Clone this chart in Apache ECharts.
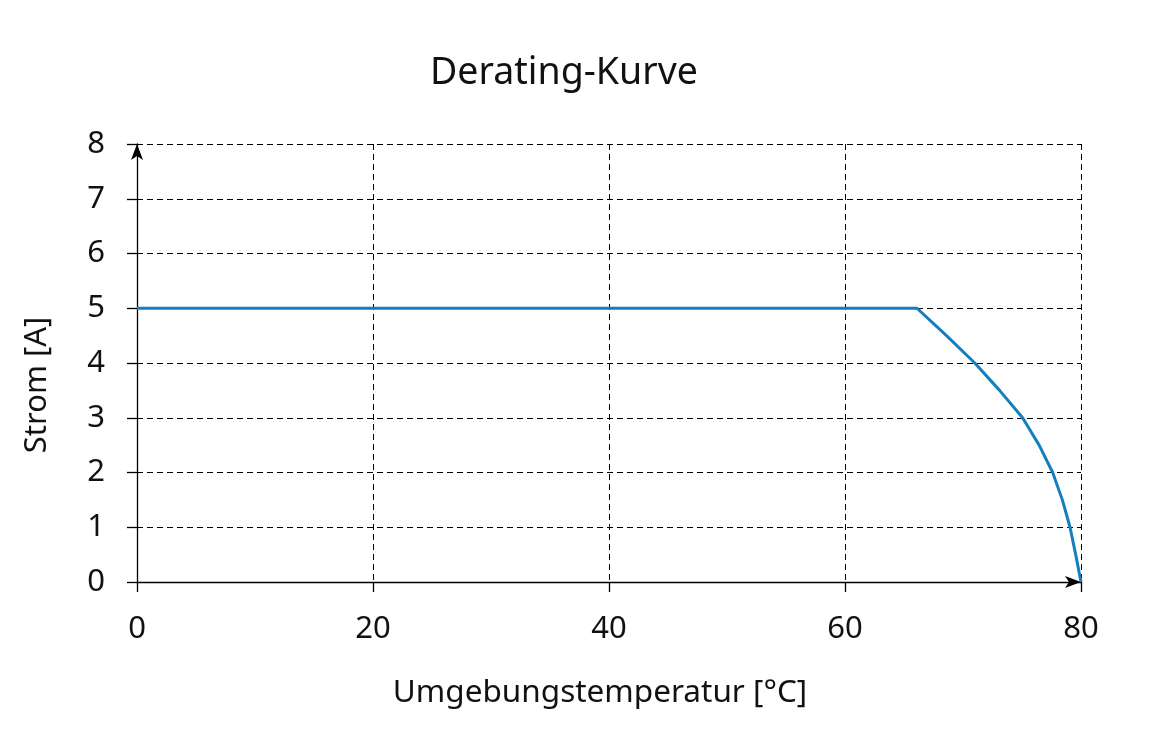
<!DOCTYPE html>
<html>
<head>
<meta charset="utf-8">
<script src="https://cdn.jsdelivr.net/npm/echarts@6/dist/echarts.min.js"></script>
<style>html,body{margin:0;padding:0;background:#fff;}#c{width:1162px;height:750px;}</style>
</head>
<body>
<div id="c"></div>
<script>
const titleText = 'Derating-Kurve';
const xName = 'Umgebungstemperatur [°C]';
const yName = 'Strom [A]';
const xTicks = [0, 20, 40, 60, 80];
const yTicks = [0, 1, 2, 3, 4, 5, 6, 7, 8];
// temperature [°C] and current [A]
const tempC = [0, 66.1, 68.6, 71.0, 73.1, 75.05, 76.45, 77.6, 78.42, 79.07, 79.55, 80];
const currentA = [5, 5, 4.5, 4.0, 3.5, 3.0, 2.5, 2.0, 1.5, 1.0, 0.5, 0];

const font = 'Noto Sans';
const chart = echarts.init(document.getElementById('c'));
const pairs = (xs, ys) => xs.map((x, i) => [x, ys[i]]);
const lineColor = '#1380bd';
chart.setOption({
  animation: false,
  textStyle: { fontFamily: font },
  title: {
    text: titleText, left: 425, top: 49,
    textStyle: { fontFamily: font, fontSize: 37.5, fontWeight: 'normal', color: '#111' }
  },
  grid: { left: 137, right: 81, top: 144, bottom: 168, containLabel: false },
  xAxis: {
    type: 'value', min: xTicks[0], max: xTicks[xTicks.length - 1], interval: 20,
    name: xName, nameLocation: 'middle', nameGap: 95,
    nameTextStyle: { fontFamily: font, fontSize: 31.5, color: '#111', padding: [0, 18, 0, 0] },
    axisLine: { show: true, onZero: false, lineStyle: { color: '#000', width: 1.3 }, symbol: ['none', 'arrow'], symbolSize: [9, 16], symbolOffset: [0, 0] },
    axisTick: { show: true, inside: false, length: 10, lineStyle: { color: '#000', width: 1.3 } },
    axisLabel: { margin: 32, fontFamily: font, fontSize: 31, color: '#111' },
    splitLine: { show: true, lineStyle: { color: '#000', type: [6, 4], width: 1 } }
  },
  yAxis: {
    type: 'value', min: yTicks[0], max: yTicks[yTicks.length - 1], interval: 1,
    name: yName, nameLocation: 'middle', nameGap: 84, nameRotate: 90,
    nameTextStyle: { fontFamily: font, fontSize: 31, color: '#111', padding: [0, 44, 0, 0] },
    axisLine: { show: true, onZero: false, lineStyle: { color: '#000', width: 1.3 }, symbol: ['none', 'arrow'], symbolSize: [9, 16], symbolOffset: [0, 0] },
    axisTick: { show: true, inside: false, length: 10, lineStyle: { color: '#000', width: 1.3 } },
    axisLabel: { margin: 32, fontFamily: font, fontSize: 31, color: '#111' },
    splitLine: { show: true, lineStyle: { color: '#000', type: [6, 4], width: 1 } }
  },
  series: [
    { type: 'line', data: pairs(tempC, currentA), showSymbol: false, smooth: false,
      lineStyle: { color: lineColor, width: 3, join: 'round' }, z: 5 }
  ]
});
</script>
</body>
</html>
